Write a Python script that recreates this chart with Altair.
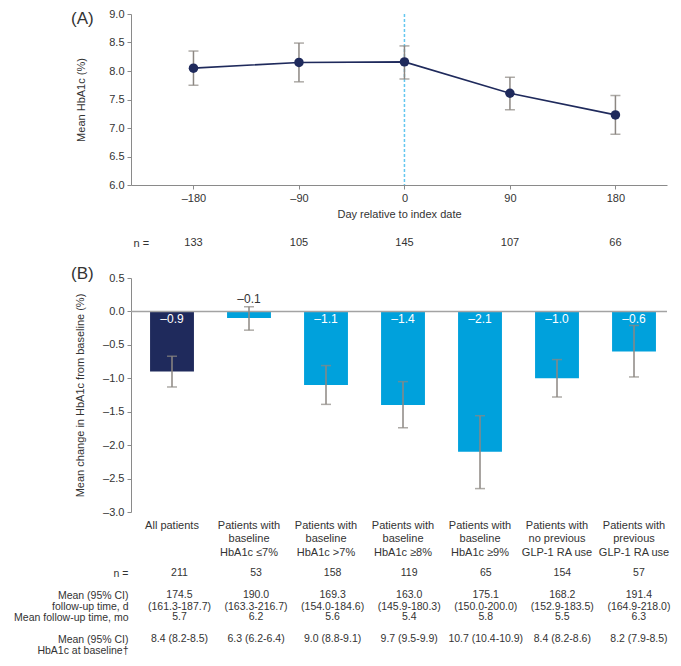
import altair as alt
import pandas as pd

FONT = "Liberation Sans, Arial, sans-serif"
TXT = "#333333"
AXC = "#8a8a8a"
NAVY = "#1f2a5c"
CYAN = "#00a1dc"
ERR = "#8c8782"
VLINE = "#63c7ef"

# ---- Panel A data ----
days = [-180, -90, 0, 90, 180]
mean_a = [8.05, 8.15, 8.16, 7.61, 7.23]
lo_a = [7.75, 7.81, 7.86, 7.32, 6.89]
hi_a = [8.35, 8.49, 8.44, 7.89, 7.57]
n_a = [133, 105, 145, 107, 66]

# ---- Panel B data ----
groups = [
    "All patients",
    "Patients with\nbaseline\nHbA1c ≤7%",
    "Patients with\nbaseline\nHbA1c >7%",
    "Patients with\nbaseline\nHbA1c ≥8%",
    "Patients with\nbaseline\nHbA1c ≥9%",
    "Patients with\nno previous\nGLP-1 RA use",
    "Patients with\nprevious\nGLP-1 RA use",
]
change_b = [-0.9, -0.1, -1.1, -1.4, -2.1, -1.0, -0.6]
lo_b = [-1.13, -0.28, -1.39, -1.74, -2.65, -1.28, -0.98]
hi_b = [-0.67, 0.07, -0.81, -1.05, -1.56, -0.72, -0.21]
kind_b = ["all", "sub", "sub", "sub", "sub", "sub", "sub"]

# ---- Table data ----
row_labels = [
    "n =",
    "Mean (95% CI)\nfollow-up time, d",
    "Mean follow-up time, mo",
    "Mean (95% CI)\nHbA1c at baseline†",
]
n_b = [211, 53, 158, 119, 65, 154, 57]
fu_mean = [174.5, 190.0, 169.3, 163.0, 175.1, 168.2, 191.4]
fu_lo = [161.3, 163.3, 154.0, 145.9, 150.0, 152.9, 164.9]
fu_hi = [187.7, 216.7, 184.6, 180.3, 200.0, 183.5, 218.0]
fu_mo = [5.7, 6.2, 5.6, 5.4, 5.8, 5.5, 6.3]
bl_mean = [8.4, 6.3, 9.0, 9.7, 10.7, 8.4, 8.2]
bl_lo = [8.2, 6.2, 8.8, 9.5, 10.4, 8.2, 7.9]
bl_hi = [8.5, 6.4, 9.1, 9.9, 10.9, 8.6, 8.5]

W = 536
HA = 171
HB = 234


def panel_label(txt, ypix):
    return alt.Chart(pd.DataFrame({"lab": [txt]})).mark_text(
        font=FONT, fontSize=17, color=TXT, align="left", baseline="middle"
    ).encode(x=alt.value(-60), y=alt.value(ypix), text="lab:N")


# ---------------- Panel A ----------------
dfa = pd.DataFrame({"day": days, "mean": mean_a, "lo": lo_a, "hi": hi_a, "n": n_a})
xscaleA = alt.Scale(domain=[-233.3, 224], nice=False, zero=False)


def xA():
    return alt.X(
        "day:Q",
        scale=xscaleA,
        axis=alt.Axis(
            values=days,
            title="Day relative to index date",
            labelExpr="datum.value < 0 ? '–' + abs(datum.value) : '' + datum.value",
            tickSize=4,
            labelPadding=3,
            titlePadding=5,
            labelFlush=False,
        ),
    )


def yA(field):
    return alt.Y(
        field,
        scale=alt.Scale(domain=[6, 9], nice=False, zero=False),
        axis=alt.Axis(
            values=[6.0, 6.5, 7.0, 7.5, 8.0, 8.5, 9.0],
            format=".1f",
            title="Mean HbA1c (%)",
            tickSize=4,
            labelPadding=3,
            titlePadding=22,
        ),
    )


baseA = alt.Chart(dfa)
vline = alt.Chart(pd.DataFrame({"day": [0]})).mark_rule(
    color=VLINE, strokeDash=[3, 2], strokeWidth=1.5
).encode(x=xA())
errA = baseA.mark_rule(color=ERR, strokeWidth=1.5).encode(x=xA(), y=yA("lo:Q"), y2="hi:Q")
capA_lo = baseA.mark_tick(color=ERR, orient="horizontal", size=10, thickness=1.5).encode(x=xA(), y=yA("lo:Q"))
capA_hi = baseA.mark_tick(color=ERR, orient="horizontal", size=10, thickness=1.5).encode(x=xA(), y=yA("hi:Q"))
lineA = baseA.mark_line(color=NAVY, strokeWidth=1.6).encode(x=xA(), y=yA("mean:Q"))
ptsA = baseA.mark_circle(color=NAVY, opacity=1, size=90).encode(x=xA(), y=yA("mean:Q"))

panelA = alt.layer(vline, errA, capA_lo, capA_hi, lineA, ptsA, panel_label("(A)", 5)).properties(
    width=W, height=HA
)

# n row for panel A
dfn = pd.DataFrame({"day": days, "n": n_a, "row": ["n ="] * len(days)})
nrowA = alt.Chart(dfn).mark_text(font=FONT, fontSize=11, color=TXT).encode(
    x=alt.X("day:Q", scale=xscaleA, axis=None),
    y=alt.Y(
        "row:N",
        scale=alt.Scale(type="point", align=0.717),
        axis=alt.Axis(title=None, domain=False, ticks=False, labelAlign="left", labelPadding=-2),
    ),
    text="n:Q",
).properties(width=W, height=53)

# ---------------- Panel B ----------------
dfb = pd.DataFrame({
    "grp": groups, "chg": change_b, "lo": lo_b, "hi": hi_b, "kind": kind_b,
    "lab": [f"{v:.1f}".replace("-", "–") for v in change_b],
})
xscaleB = alt.Scale(domain=groups, paddingInner=0.43, paddingOuter=0.1955, align=0.633)


def xB():
    return alt.X(
        "grp:N",
        scale=xscaleB,
        sort=groups,
        axis=alt.Axis(
            title=None, domain=False, ticks=False, labelAngle=0,
            labelExpr="split(datum.label, '\\n')", labelBaseline="top",
            labelPadding=7, labelLineHeight=13.5, labelOverlap=False, labelLimit=300,
        ),
    )


def yB(field):
    return alt.Y(
        field,
        scale=alt.Scale(domain=[-3, 0.5], nice=False, zero=False),
        axis=alt.Axis(
            values=[0.5, 0.0, -0.5, -1.0, -1.5, -2.0, -2.5, -3.0],
            labelExpr="datum.value < 0 ? '–' + format(abs(datum.value), '.1f') : format(datum.value, '.1f')",
            title="Mean change in HbA1c from baseline (%)",
            tickSize=4,
            labelPadding=3,
            titlePadding=17,
        ),
    )


baseB = alt.Chart(dfb)
bars = baseB.mark_bar().encode(
    x=xB(), y=yB("chg:Q"), y2=alt.datum(0),
    color=alt.Color("kind:N", scale=alt.Scale(domain=["all", "sub"], range=[NAVY, CYAN]), legend=None),
)
zero = alt.Chart(pd.DataFrame({"z": [0.0]})).mark_rule(color="#a3a3a3", strokeWidth=1.5).encode(y=yB("z:Q"))
errB = baseB.mark_rule(color=ERR, strokeWidth=1.5).encode(x=xB(), y=yB("lo:Q"), y2="hi:Q")
capB_lo = baseB.mark_tick(color=ERR, orient="horizontal", size=10, thickness=1.5).encode(x=xB(), y=yB("lo:Q"))
capB_hi = baseB.mark_tick(color=ERR, orient="horizontal", size=10, thickness=1.5).encode(x=xB(), y=yB("hi:Q"))
lab_in = baseB.transform_filter("datum.chg <= -0.3").transform_calculate(z="0").mark_text(
    font=FONT, fontSize=12, color="white", baseline="top", dy=3
).encode(x=xB(), y=yB("z:Q"), text="lab:N")
lab_out = baseB.transform_filter("datum.chg > -0.3").mark_text(
    font=FONT, fontSize=12, color=TXT, baseline="bottom", dy=-1
).encode(x=xB(), y=yB("hi:Q"), text="lab:N")

panelB = alt.layer(bars, zero, errB, capB_lo, capB_hi, lab_in, lab_out, panel_label("(B)", -4)).properties(
    width=W, height=HB
)

# ---------------- Table ----------------
recs = []
for i, g in enumerate(groups):
    vals = [
        f"{n_b[i]}",
        f"{fu_mean[i]:.1f}\n({fu_lo[i]:.1f}-{fu_hi[i]:.1f})",
        f"{fu_mo[i]:.1f}",
        f"{bl_mean[i]:.1f} ({bl_lo[i]:.1f}-{bl_hi[i]:.1f})",
    ]
    for r, v in zip(row_labels, vals):
        recs.append({"grp": g, "row": r, "val": v})
dft = pd.DataFrame(recs)

table = alt.Chart(dft).mark_text(
    font=FONT, fontSize=10.5, color=TXT, lineBreak="\n", lineHeight=11.5
).encode(
    x=alt.X("grp:N", scale=xscaleB, sort=groups, axis=None),
    y=alt.Y(
        "row:N",
        sort=row_labels,
        scale=alt.Scale(type="point", domain=row_labels, padding=0.932, align=1),
        axis=alt.Axis(
            title=None, domain=False, ticks=False, labelAlign="right",
            labelExpr="split(datum.label, '\\n')", labelPadding=3,
            labelLineHeight=11.5, labelLimit=300, labelFontSize=10.5,
        ),
    ),
    text="val:N",
).properties(width=W, height=107)

chart = alt.vconcat(panelA, nrowA, panelB, table, spacing=20, bounds="flush").properties(
    padding={"left": 5, "top": 0, "right": 0, "bottom": 0}
).configure_view(
    stroke=None
).configure_axis(
    grid=False,
    domainColor=AXC,
    tickColor=AXC,
    labelColor=TXT,
    titleColor=TXT,
    labelFont=FONT,
    titleFont=FONT,
    labelFontSize=11,
    titleFontSize=11,
    titleFontWeight="normal",
).configure_text(font=FONT)

chart.save("out.html", embed_options={"renderer": "svg", "actions": False})
